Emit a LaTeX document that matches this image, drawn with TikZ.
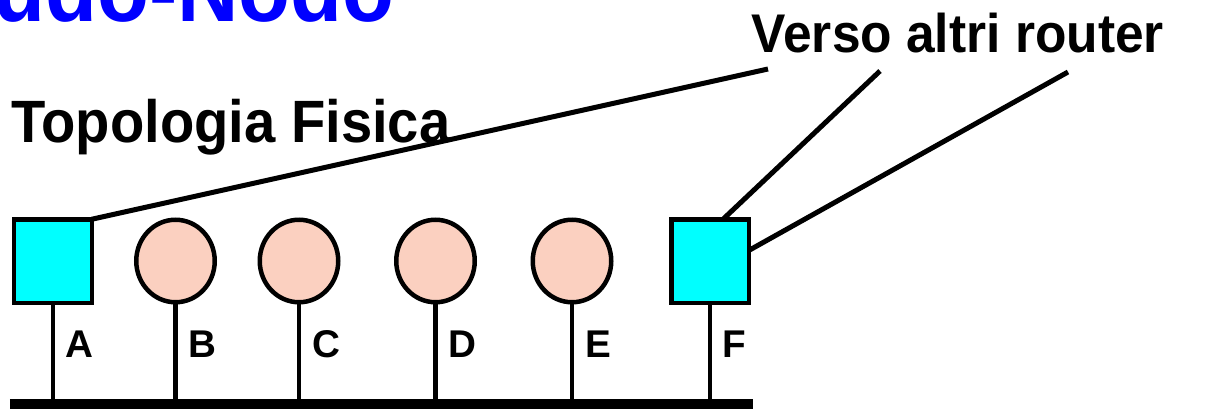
\documentclass[tikz,border=0pt]{standalone}
\usepackage{fontspec}
\setmainfont{Liberation Sans}
\usepackage{tikz}
\usetikzlibrary{shapes.geometric, positioning}

\definecolor{routercyan}{RGB}{0,255,255}
\definecolor{hostpink}{RGB}{251,208,192}

\begin{document}
\begin{tikzpicture}[
    router/.style={rectangle, draw=black, fill=routercyan, line width=0.09cm, minimum width=1.55cm, minimum height=1.67cm, inner sep=0pt, outer sep=0pt},
    host/.style={ellipse, draw=black, fill=hostpink, line width=0.09cm, minimum width=1.57cm, minimum height=1.65cm, inner sep=0pt, outer sep=0pt},
    stem/.style={line width=0.09cm},
    link/.style={line width=0.1cm},
    bus/.style={line width=0.2cm},
    tag/.style={inner sep=0pt, font=\fontsize{22}{26}\selectfont\bfseries}
]
    \useasboundingbox (0,0) rectangle (24.42,8.16);
    \clip (0,0) rectangle (24.42,8.16);

    \node (title) [anchor=base west, inner sep=0pt, text=blue] at (-0.14,7.74) {\scalebox{0.93}[1]{\fontsize{52}{60}\selectfont\bfseries udo-Nodo}};
    \node (topo) [anchor=base west, inner sep=0pt] at (0.22,5.32) {\scalebox{0.94}[1]{\fontsize{34}{40}\selectfont\bfseries Topologia Fisica}};
    \node (verso) [anchor=base west, inner sep=0pt] at (15.03,7.10) {\scalebox{0.945}[1]{\fontsize{31}{36}\selectfont\bfseries Verso altri router}};

    \node (A) [router] at (1.06,2.94) {};
    \node (B) [host, right=0.89cm of A] {};
    \node (C) [host, right=0.90cm of B] {};
    \node (D) [host, right=1.16cm of C] {};
    \node (E) [host, right=1.16cm of D] {};
    \node (F) [router, right=1.20cm of E] {};

    \coordinate (busL) at (0.2,0.08);
    \coordinate (busR) at (15.06,0.08);
    \coordinate (v1) at (15.36,6.78);
    \coordinate (v2) at (17.60,6.74);
    \coordinate (v3) at (21.36,6.72);

    \draw[stem] (A.south) -- (A.south |- busL);
    \draw[stem] (B.south) -- (B.south |- busL);
    \draw[stem] (C.south) -- (C.south |- busL);
    \draw[stem] (D.south) -- (D.south |- busL);
    \draw[stem] (E.south) -- (E.south |- busL);
    \draw[stem] (F.south) -- (F.south |- busL);
    \draw[bus] (busL) -- (busR);

    \node (labA) [tag] at ([shift={(0.53,-1.66)}]A.center) {A};
    \node (labB) [tag] at ([shift={(0.54,-1.66)}]B.center) {B};
    \node (labC) [tag] at ([shift={(0.54,-1.66)}]C.center) {C};
    \node (labD) [tag] at ([shift={(0.54,-1.66)}]D.center) {D};
    \node (labE) [tag] at ([shift={(0.52,-1.66)}]E.center) {E};
    \node (labF) [tag] at ([shift={(0.48,-1.66)}]F.center) {F};

    \draw[link] (A.north east) -- (v1);
    \draw[link] ([xshift=0.26cm]F.north) -- (v2);
    \draw[link] ([yshift=0.21cm]F.east) -- (v3);
\end{tikzpicture}
\end{document}
